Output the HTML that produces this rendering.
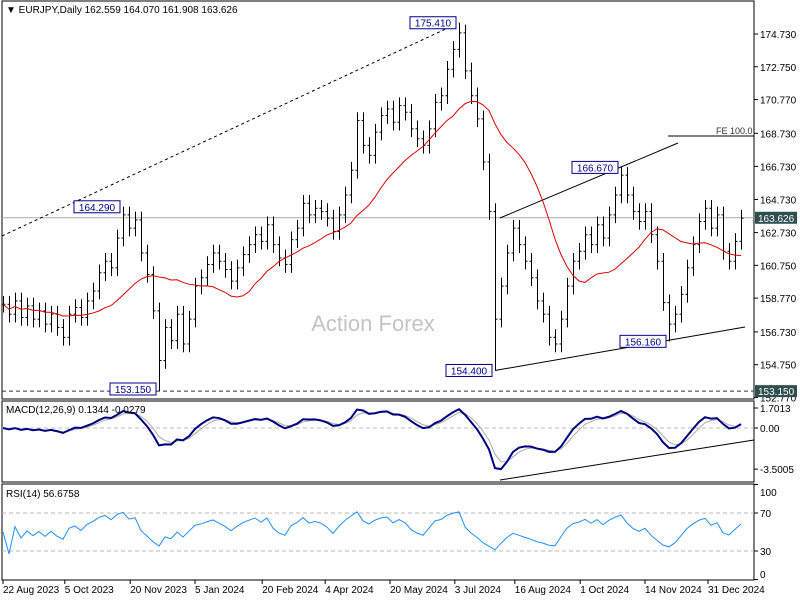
<!DOCTYPE html>
<html><head><meta charset="utf-8"><style>
body{margin:0;background:#fff;}
svg{display:block;font-family:"Liberation Sans",sans-serif;}
</style></head><body>
<svg id="chart" width="800" height="600" viewBox="0 0 800 600"></svg>
<script>
const closes=[158.4,157.8,158.6,157.6,158.3,157.5,158.0,157.2,157.8,157.0,156.4,157.8,158.2,157.6,158.6,159.2,160.3,161.0,160.6,162.4,163.8,163.0,163.5,161.5,160.2,158.0,155.0,157.0,156.2,157.8,156.0,157.5,159.5,160.0,160.8,161.5,161.0,160.5,159.8,160.6,161.4,162.0,162.6,162.2,163.2,162.0,161.2,160.8,162.3,163.0,164.5,163.8,164.2,164.0,163.6,162.8,163.8,165.0,166.5,169.5,168.0,167.4,168.8,169.8,170.2,169.4,170.4,170.0,169.0,168.4,168.0,169.0,170.6,171.0,172.6,173.8,174.8,172.5,171.0,169.6,167.0,164.0,157.5,159.5,161.5,163.0,162.0,161.0,160.0,158.6,157.8,156.4,156.0,157.5,159.5,161.0,161.6,162.6,162.0,163.2,162.4,163.8,165.0,166.2,165.0,164.0,163.4,164.0,162.6,161.0,158.5,157.2,157.8,159.0,160.6,162.0,163.4,164.2,163.0,163.8,161.6,161.0,162.2,163.6];
const lastPrice=163.626;
const priceTicks=["174.730","172.750","170.770","168.730","166.730","164.730","162.730","160.750","158.770","156.730","154.750","152.770"];
const dateLabels=["22 Aug 2023","5 Oct 2023","20 Nov 2023","5 Jan 2024","20 Feb 2024","4 Apr 2024","20 May 2024","3 Jul 2024","16 Aug 2024","1 Oct 2024","14 Nov 2024","31 Dec 2024"];
const dateIdx=[0,10.3,21.2,32,43.2,53.7,64.5,75.3,85.3,96.2,107,117.5];
const annoValues=[175.41,164.29,153.15,154.40,166.67,156.16];
const annoIdx=[76,20,26,82,103,111];
const annoIsHigh=[true,true,false,false,true,false];
const rsiTicks=[100,70,30,0];

const svg=document.getElementById('chart');
const NS='http://www.w3.org/2000/svg';
function mk(tag,at,parent){const e=document.createElementNS(NS,tag);for(const k in at)e.setAttribute(k,at[k]);(parent||svg).appendChild(e);return e;}
const X=i=>3+6*i;
const Y=p=>34+(174.73-p)*16.55;
const MY=v=>428-v*11.75;
const RY=v=>551-(v-30)*0.95;

let e;
e=mk('rect',{x:2,y:1,width:752,height:398,fill:'none',stroke:'#000'});
e=mk('rect',{x:2,y:401,width:752,height:81,fill:'none',stroke:'#000'});
e=mk('rect',{x:2,y:484,width:752,height:96,fill:'none',stroke:'#000'});

e=mk('text',{x:373,y:331,'font-size':22,fill:'#c4c4c4','text-anchor':'middle'});e.textContent='Action Forex';

priceTicks.forEach(t=>{const y=Y(parseFloat(t));
 mk('line',{x1:754,x2:758,y1:y,y2:y,stroke:'#000'});
 e=mk('text',{x:760,y:y+4,'font-size':10,fill:'#000'});e.textContent=t;});

e=mk('line',{x1:2,x2:754,y1:Y(lastPrice),y2:Y(lastPrice),stroke:'#aaa'});
e=mk('line',{x1:2,x2:754,y1:Y(153.15),y2:Y(153.15),stroke:'#333','stroke-dasharray':'4,3'});
e=mk('line',{x1:668,x2:754,y1:136,y2:136,stroke:'#000'});
e=mk('text',{x:716,y:134,'font-size':9,fill:'#333'});e.textContent='FE 100.0';
e=mk('line',{x1:2,y1:236,x2:X(76),y2:Y(175.41),stroke:'#000','stroke-dasharray':'3,3'});
e=mk('line',{x1:X(82),y1:Y(154.4),x2:745,y2:327,stroke:'#000'});
e=mk('line',{x1:500,y1:218,x2:678,y2:143,stroke:'#000'});

const bars=mk('g',{});
closes.forEach((c,i)=>{const o=i?closes[i-1]:c;let hi=Math.max(o,c)+0.5,lo=Math.min(o,c)-0.5;
 annoIdx.forEach((ix,k)=>{if(ix===i){if(annoIsHigh[k])hi=Math.max(hi,annoValues[k]);else lo=Math.min(lo,annoValues[k]);}});
 const x=X(i)+0.5;
 const b=mk('line',{x1:x,x2:x,y1:Y(hi),y2:Y(lo),stroke:'#000','stroke-width':1},bars);
 
 mk('line',{x1:x-2,x2:x,y1:Y(o),y2:Y(o),stroke:'#000'},bars);
 mk('line',{x1:x,x2:x+2,y1:Y(c),y2:Y(c),stroke:'#000'},bars);});

const P=16;let pts=[];
closes.forEach((c,i)=>{const s=closes.slice(Math.max(0,i-P+1),i+1);const m=s.reduce((a,b)=>a+b,0)/s.length;pts.push(X(i)+','+Y(m));});
e=mk('polyline',{points:pts.join(' '),fill:'none',stroke:'#e00000','stroke-width':1});

annoValues.forEach((v,k)=>{const t=v.toFixed(3);const x=X(annoIdx[k]);const y=Y(v);
 const w=46;const bx=x-w-3;const by=k===2?383:y-6;
 const g=mk('g',{});
 mk('rect',{x:bx,y:by,width:w,height:12,fill:'#fff',stroke:'#00008b'},g);
 const tx=mk('text',{x:bx+w/2,y:by+10,'font-size':10,fill:'#00008b','text-anchor':'middle'},g);tx.textContent=t;});

[[lastPrice,'current-price-box'],[153.15,'support-price-box']].forEach(([v,n])=>{const y=Y(v);
 const g=mk('g',{});
 mk('rect',{x:755,y:y-6,width:42,height:12,fill:'#2f4f4f'},g);
 const t=mk('text',{x:758,y:y+4,'font-size':10,fill:'#fff'},g);t.textContent=v.toFixed(3);});

e=mk('text',{x:6,y:13,'font-size':10,fill:'#000'});e.textContent='▼ EURJPY,Daily  162.559 164.070 161.908 163.626';

function ema(arr,n){const k=2/(n+1);let r=[],p=arr[0];arr.forEach(v=>{p=v*k+p*(1-k);r.push(p);});return r;}
const e1=ema(closes,4),e2=ema(closes,9);const macd=e1.map((v,i)=>v-e2[i]);const sig=ema(macd,3);
const clampM=v=>Math.max(-3.5,Math.min(1.9,v));
mk('line',{x1:2,x2:754,y1:MY(0),y2:MY(0),stroke:'#bbb','stroke-dasharray':'4,3'});
e=mk('polyline',{points:sig.map((v,i)=>X(i)+','+MY(clampM(v))).join(' '),fill:'none',stroke:'#aaa','stroke-width':1});
e=mk('polyline',{points:macd.map((v,i)=>X(i)+','+MY(clampM(v))).join(' '),fill:'none',stroke:'#000080','stroke-width':2});
e=mk('line',{x1:500,y1:480,x2:754,y2:440,stroke:'#000'});
e=mk('text',{x:6,y:413,'font-size':10,fill:'#000'});e.textContent='MACD(12,26,9) 0.1344 -0.0279';
[['1.7013',1.7013],['0.00',0],['-3.5005',-3.5005]].forEach(([t,v])=>{const y=MY(v);mk('line',{x1:754,x2:758,y1:y,y2:y,stroke:'#000'});
 const tx=mk('text',{x:760,y:y+4,'font-size':10,fill:'#000'});tx.textContent=t;});

const n=5;let ag=0,al=0,rsi=[50];
for(let i=1;i<closes.length;i++){const d=closes[i]-closes[i-1];const g=Math.max(d,0),l=Math.max(-d,0);
 if(i<=n){ag+=g/n;al+=l/n;}else{ag=(ag*(n-1)+g)/n;al=(al*(n-1)+l)/n;}
 const r=al===0?100:100-100/(1+ag/al);rsi.push(52+(r-50)*0.5);}
[70,30].forEach(v=>mk('line',{x1:2,x2:754,y1:RY(v),y2:RY(v),stroke:'#bbb','stroke-dasharray':'4,3'}));
e=mk('polyline',{points:rsi.map((v,i)=>X(i)+','+RY(v)).join(' '),fill:'none',stroke:'#1e90ff','stroke-width':1});
e=mk('text',{x:6,y:497,'font-size':10,fill:'#000'});e.textContent='RSI(14) 56.6758';
rsiTicks.forEach(v=>{const y=RY(v);const ly=Math.max(492,Math.min(574,y));mk('line',{x1:754,x2:758,y1:y,y2:y,stroke:'#000'});
 const tx=mk('text',{x:760,y:ly+4,'font-size':10,fill:'#000'});tx.textContent=v;});

dateLabels.forEach((t,k)=>{const x=X(dateIdx[k]);mk('line',{x1:x,x2:x,y1:580,y2:584,stroke:'#000'});
 const tx=mk('text',{x:x,y:593,'font-size':10,fill:'#000'});tx.textContent=t;});
</script>
</body></html>
